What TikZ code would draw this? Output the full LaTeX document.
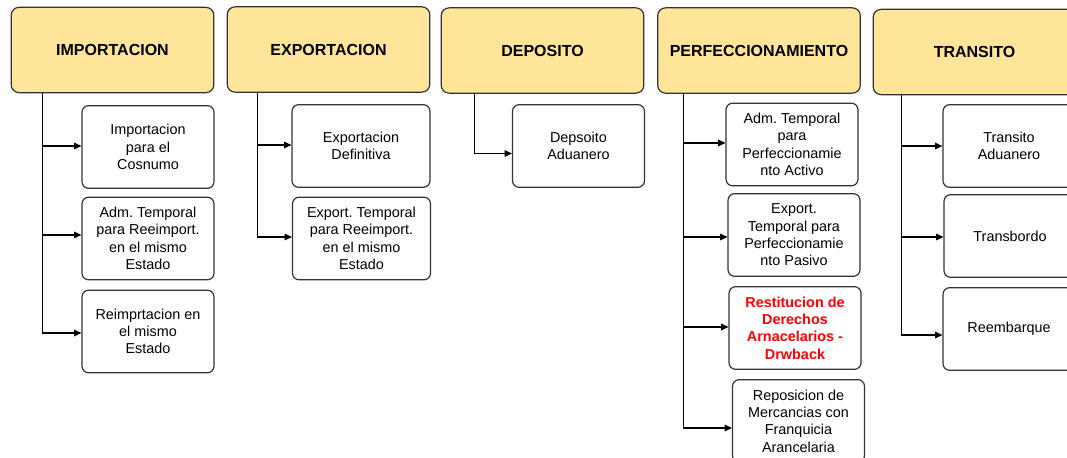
\documentclass[tikz,border=0pt]{standalone}
\usepackage{fontspec}
\setmainfont{Liberation Sans}
\usetikzlibrary{calc,arrows.meta}
\definecolor{hdrfill}{HTML}{FFE599}
\definecolor{edgegray}{HTML}{333333}
\definecolor{redtxt}{HTML}{FF0000}
\frenchspacing
\tikzset{
 hdr/.style={draw=edgegray, line width=0.9pt, fill=hdrfill, rounded corners=6pt, minimum width=152pt, minimum height=64pt, inner sep=0pt, font=\fontsize{12}{14}\selectfont\bfseries},
 sub/.style={draw=edgegray, line width=0.9pt, fill=white, rounded corners=5pt, minimum width=99pt, minimum height=62pt, inner sep=0pt, align=center, font=\fontsize{10.8}{13}\selectfont},
 wide/.style={minimum width=103.5pt},
 redsub/.style={font=\fontsize{10.8}{13}\selectfont\bfseries, text=redtxt},
 link/.style={line width=0.8pt, -{Triangle[length=5.5pt,width=5pt]}},
}
\begin{document}
\begin{tikzpicture}[x=0.75pt,y=-0.75pt]
\useasboundingbox (0,0) rectangle (1067,457);
\clip (0,0) rectangle (1067,457);
% headers
\node[hdr] (imp) at (112.5,50) {IMPORTACION};
\node[hdr] (exp) at (328.5,49.5) {EXPORTACION};
\node[hdr] (dep) at (542.5,50.5) {DEPOSITO};
\node[hdr] (per) at (759,50.5) {PERFECCIONAMIENTO};
\node[hdr] (tra) at (974.5,52) {TRANSITO};
% importacion
\node[sub] (i1) at (148,147) {Importacion\\para el\\Cosnumo};
\node[sub] (i2) at (148,238.5) {Adm. Temporal\\para Reeimport.\\en el mismo\\Estado};
\node[sub] (i3) at (148,331.5) {Reimprtacion en\\el mismo\\Estado};
% exportacion
\node[sub,wide] (e1) at (361,146) {Exportacion\\Definitiva};
\node[sub,wide] (e2) at (361.5,238.5) {Export. Temporal\\para Reeimport.\\en el mismo\\Estado};
% deposito
\node[sub] (d1) at (578.5,146) {Depsoito\\Aduanero};
% perfeccionamiento
\node[sub] (p1) at (792,144.5) {Adm. Temporal\\para\\Perfeccionamie\\nto Activo};
\node[sub] (p2) at (794,235) {Export.\\Temporal para\\Perfeccionamie\\nto Pasivo};
\node[sub,redsub] (p3) at (795,328) {Restitucion de\\Derechos\\Arnacelarios -\\Drwback};
\node[sub] (p4) at (798.5,421) {Reposicion de\\Mercancias con\\Franquicia\\Arancelaria};
% transito
\node[sub] (t1) at (1009,146) {Transito\\Aduanero};
\node[sub] (t2) at (1010,236) {Transbordo};
\node[sub] (t3) at (1009,329) {Reembarque};
% connectors
\draw[link] ($(imp.south west)+(32,0)$) |- ($(i1.west)+(0,-1)$);
\draw[link] ($(imp.south west)+(32,0)$) |- ($(i2.west)+(0,-3.5)$);
\draw[link] ($(imp.south west)+(32,0)$) |- ($(i3.west)+(0,1.5)$);
\draw[link] ($(exp.south west)+(31,0)$) |- ($(e1.west)+(0,-1)$);
\draw[link] ($(exp.south west)+(31,0)$) |- ($(e2.west)+(0,-1.5)$);
\draw[link] ($(dep.south west)+(34,0)$) |- ($(d1.west)+(0,7.5)$);
\draw[link] ($(per.south west)+(26,0)$) |- ($(p1.west)+(0,-1.5)$);
\draw[link] ($(per.south west)+(26,0)$) |- ($(p2.west)+(0,2)$);
\draw[link] ($(per.south west)+(26,0)$) |- ($(p3.west)+(0,-1)$);
\draw[link] ($(per.south west)+(26,0)$) |- ($(p4.west)+(0,7)$);
\draw[link] ($(tra.south west)+(29,0)$) |- (t1.west);
\draw[link] ($(tra.south west)+(29,0)$) |- ($(t2.west)+(0,1)$);
\draw[link] ($(tra.south west)+(29,0)$) |- ($(t3.west)+(0,6)$);
\end{tikzpicture}
\end{document}
